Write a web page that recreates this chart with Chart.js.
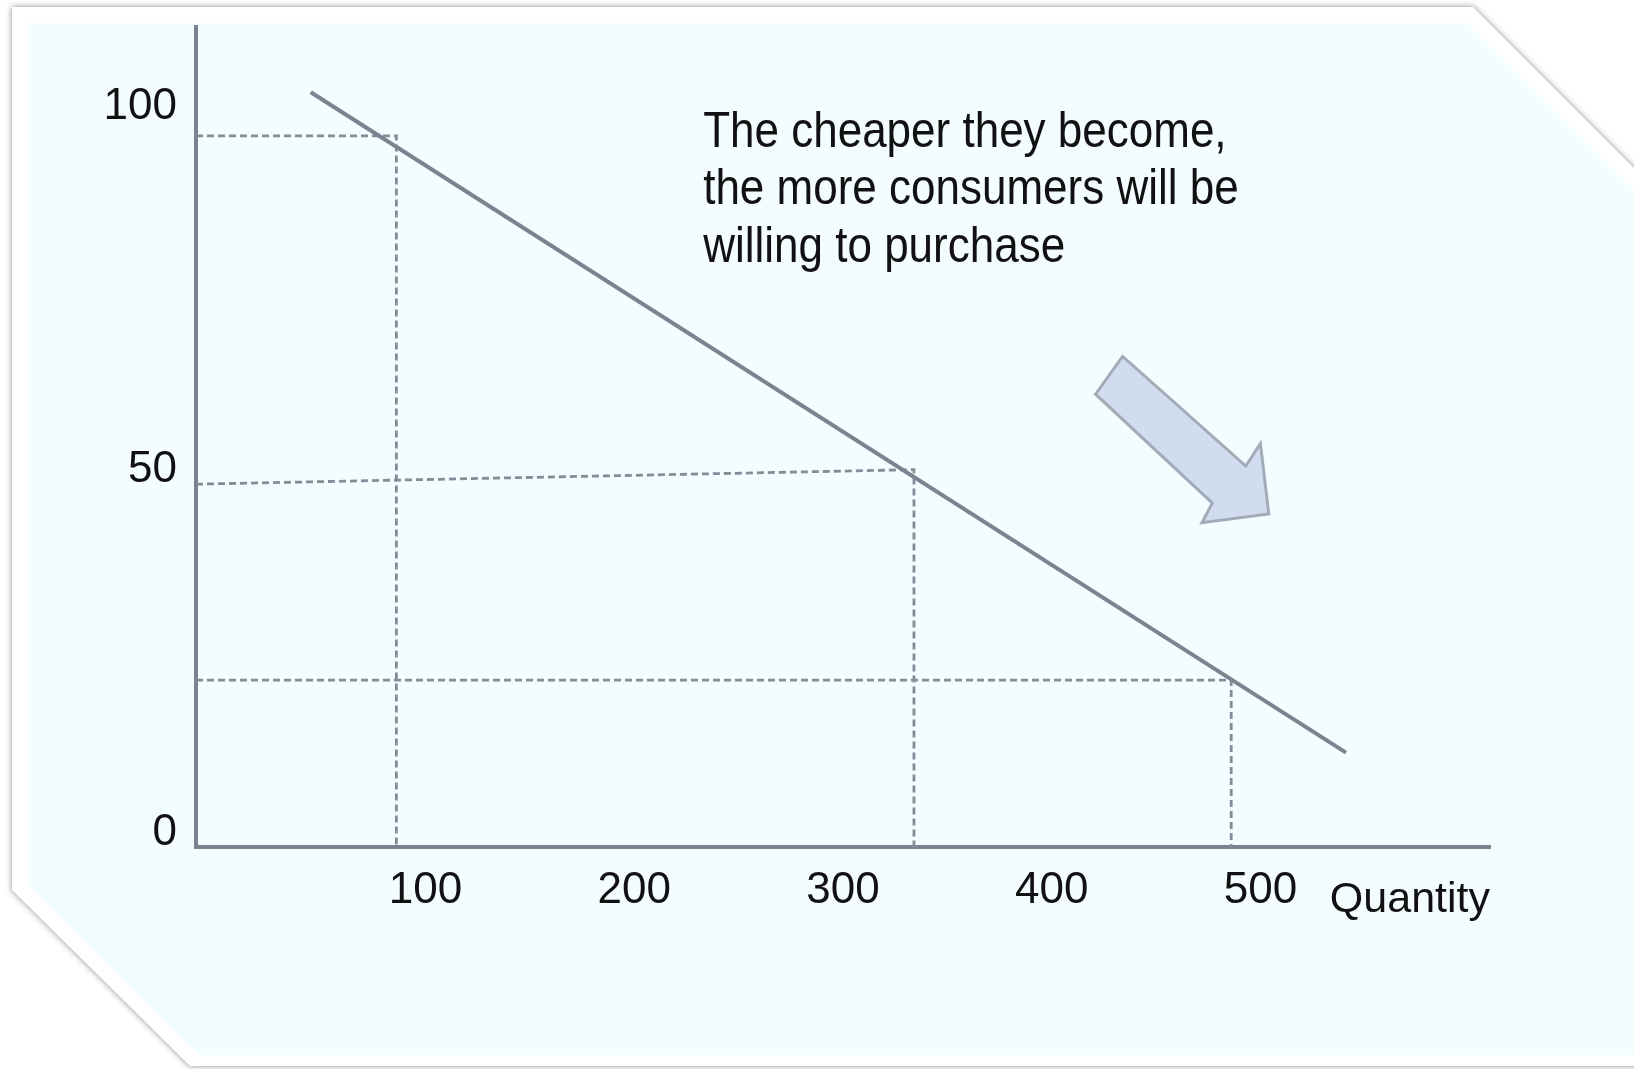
<!DOCTYPE html>
<html lang="en">
<head>
    <meta charset="UTF-8">
    <title>Demand curve</title>
    <style>
        body { margin: 0; background: #fff; }
        #wrap {
            position: absolute; left: 0; top: 0;
            width: 1634px; height: 1069px; overflow: hidden;
        }
        #shadow {
            position: absolute; left: 12px; top: 7px;
            width: 1640px; height: 1059px;
            filter: drop-shadow(0 0 3px rgba(0, 0, 0, 0.45));
        }
        #card {
            position: absolute; left: 0; top: 0; width: 100%; height: 100%;
            background: #fff;
            clip-path: polygon(0 0, 1461px 0, 1640px 179px, 1640px 1059px, 178px 1059px, 0 883px);
        }
        #inner {
            position: absolute; left: 0; top: 0; width: 100%; height: 100%;
            background: #f3fcfe;
            clip-path: polygon(16px 16px, 1455px 16px, 1640px 201px, 1640px 1048px, 187px 1048px, 16px 877px);
        }
        #box {
            position: absolute; left: 0; top: 0;
            width: 1634px; height: 1069px;
        }
    </style>
    <script src="https://cdn.jsdelivr.net/npm/chart.js"></script>
</head>
<body>
<div id="wrap">
    <div id="shadow"><div id="card"></div><div id="inner"></div></div>
    <div id="box"><canvas id="myChart"></canvas></div>
</div>
<script>
    // demand line (quantity, price)
    const demandQty = [45, 541];
    const demandPrice = [102, 11];

    // dashed guide lines: start price at the y axis, corner on the curve
    const guideStartPrice = [96, 48, 21];
    const guideQty = [86, 334, 486];
    const guidePrice = [96, 50, 21];

    const qtyTicks = [100, 200, 300, 400, 500];
    const priceTicks = [0, 50, 100];

    // arrow outline (quantity, price)
    const arrowQty = [434, 421, 477, 472, 504, 500, 493];
    const arrowPrice = [65.6, 60.4, 45.4, 42.7, 43.9, 53.6, 50.5];

    const noteLines = ['The cheaper they become,', 'the more consumers will be', 'willing to purchase'];
    const noteAt = { x: 233, y: 96.4 };

    const axisColor = '#7a8491';
    const guideColor = '#838c98';
    const font = '"Liberation Sans", Arial, sans-serif';

    var datasets = [{
        data: demandQty.map((q, i) => ({ x: q, y: demandPrice[i] })),
        showLine: true,
        borderColor: axisColor,
        borderWidth: 4,
        pointRadius: 0
    }];
    guideQty.forEach(function(q, i) {
        datasets.push({
            data: [{ x: -10, y: guideStartPrice[i] }, { x: q, y: guidePrice[i] }, { x: q, y: -2 }],
            showLine: true,
            borderColor: guideColor,
            borderWidth: 2.8,
            borderDash: [7, 4],
            pointRadius: 0,
            clip: false
        });
    });

    const extras = {
        id: 'extras',
        afterDatasetsDraw(chart) {
            const c = chart.ctx, xs = chart.scales.x, ys = chart.scales.y;
            c.save();
            // arrow
            c.beginPath();
            arrowQty.forEach(function(q, i) {
                const px = xs.getPixelForValue(q), py = ys.getPixelForValue(arrowPrice[i]);
                if (i === 0) c.moveTo(px, py); else c.lineTo(px, py);
            });
            c.closePath();
            c.fillStyle = '#d1dcee';
            c.fill();
            c.strokeStyle = '#a2acb9';
            c.lineWidth = 3;
            c.lineJoin = 'miter';
            c.stroke();
            // note (text in the source is a bit taller than wide)
            c.fillStyle = '#111';
            c.font = '44px ' + font;
            c.textAlign = 'left';
            c.textBaseline = 'middle';
            const x0 = xs.getPixelForValue(noteAt.x), y0 = ys.getPixelForValue(noteAt.y);
            noteLines.forEach(function(t, i) {
                c.save();
                c.translate(x0, y0 + i * 57.5);
                c.scale(1, 1.12);
                c.fillText(t, 0, 0);
                c.restore();
            });
            c.restore();
        }
    };

    var ctx = document.getElementById('myChart').getContext('2d');
    var myChart = new Chart(ctx, {
        type: 'scatter',
        data: { datasets: datasets },
        options: {
            responsive: true,
            maintainAspectRatio: false,
            animation: false,
            layout: { padding: { top: 27, right: 144, left: 0, bottom: 0 } },
            plugins: { legend: { display: false }, tooltip: { enabled: false } },
            scales: {
                x: {
                    type: 'linear',
                    min: -10,
                    max: 610,
                    afterFit: function(s) { s.height = 222; s.paddingLeft = 0; s.paddingRight = 0; },
                    afterBuildTicks: function(s) { s.ticks = qtyTicks.map(v => ({ value: v })); },
                    grid: { display: false, drawTicks: false },
                    border: { display: true, color: axisColor, width: 4 },
                    ticks: { color: '#111', padding: 17, font: { family: font, size: 44 }, maxRotation: 0 },
                    title: {
                        display: true,
                        text: 'Quantity',
                        align: 'end',
                        color: '#111',
                        font: { family: font, size: 43 },
                        padding: { top: 0, bottom: 143 }
                    }
                },
                y: {
                    type: 'linear',
                    min: -2,
                    max: 111,
                    afterFit: function(s) { s.width = 196; s.paddingTop = 0; s.paddingBottom = 0; },
                    afterBuildTicks: function(s) { s.ticks = priceTicks.map(v => ({ value: v })); },
                    grid: { display: false, drawTicks: false },
                    border: { display: true, color: axisColor, width: 4 },
                    ticks: { color: '#111', padding: 19, font: { family: font, size: 44 } }
                }
            }
        },
        plugins: [extras]
    });
</script>
</body>
</html>
